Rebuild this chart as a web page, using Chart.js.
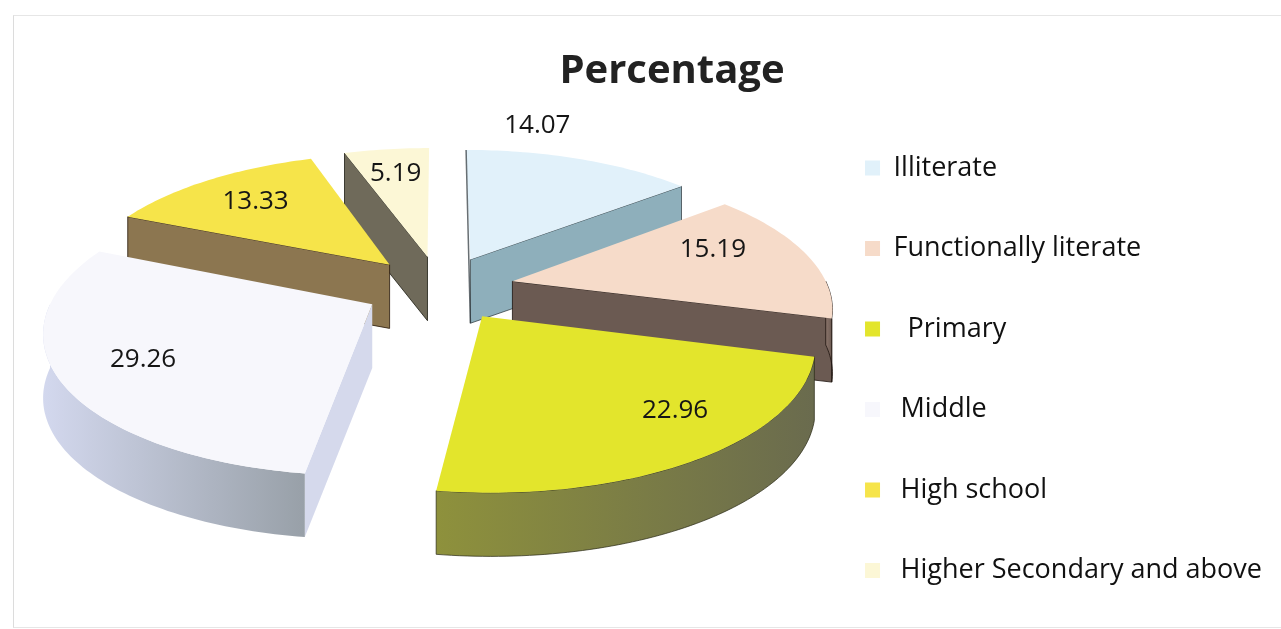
<!DOCTYPE html>
<html>
<head>
<meta charset="utf-8">
<title>Percentage</title>
<script src="https://cdn.jsdelivr.net/npm/chart.js@4.4.0/dist/chart.umd.min.js"></script>
<style>
    html, body { margin: 0; padding: 0; background: #fff; overflow: hidden; }
    #wrap { position: relative; width: 1281px; height: 629px; overflow: hidden; }
    #frame {
        position: absolute; left: 13px; top: 15px; width: 1270px; height: 611px;
        border-left: 1px solid #dcdcdc; border-top: 1px solid #e6e6e6; border-bottom: 1px solid #e6e6e6;
    }
    #chartPct { position: absolute; left: 0; top: 0; }
</style>
</head>
<body>
<div id="wrap">
    <div id="frame"></div>
    <!-- canvas um pouco mais alto que a janela para a legenda caber numa só coluna -->
    <canvas id="chartPct" width="1281" height="645"></canvas>
</div>
<script>
// Nível de escolaridade (%)
const categorias = ['Illiterate', 'Functionally literate', '  Primary', ' Middle', ' High school', ' Higher Secondary and above'];
const percentagens = [14.07, 15.19, 22.96, 29.26, 13.33, 5.19];

// cores: face de cima, parede radial, parede curva (claro -> escuro)
const corTopo = ['#e1f1fa', '#f6dbc9', '#e3e52c', '#f7f7fc', '#f6e44a', '#fcf7d6'];
const corLado = ['#8eafbb', '#6b5a52', '#7f8240', '#d5d9ec', '#8c7650', '#6f6a5a'];
const corCurva = [
    ['#a8c4cf', '#8eafbb'],
    ['#8a746a', '#6b5a52'],
    ['#8e913c', '#6a6b4e'],
    ['#d3d8ee', '#98a0a8'],
    ['#9c8558', '#8c7650'],
    ['#837e6a', '#6f6a5a']
];
const corContorno = ['rgba(40,50,55,0.7)', 'rgba(30,20,15,0.8)', 'rgba(40,40,20,0.7)', null, 'rgba(40,25,10,0.8)', 'rgba(30,30,20,0.8)'];

// pie 3D "explodido": os ângulos vêm do próprio Chart.js, aqui só se projeta
const pie3d = {
    id: 'pie3d',
    beforeDatasetsDraw(chart, args, opts) {
        const ctx = chart.ctx;
        const arcs = chart.getDatasetMeta(0).data;
        const base = arcs[0].getProps(['x', 'y', 'outerRadius'], true);
        const R = base.outerRadius;
        const cx = base.x + opts.shiftX;
        const cy = base.y + opts.shiftY;
        const A = R * opts.kx, B = R * opts.ky;
        const alt = R * opts.depth;
        const dist = opts.dist;

        // (u, v) no plano do pie -> ecrã; v cresce na direção de quem vê
        const proj = (u, v, drop) => {
            const s = dist / (dist - v);
            return [cx + A * u * s, cy + B * v * s + drop];
        };

        const fatias = arcs.map((arc, i) => {
            const p = arc.getProps(['startAngle', 'endAngle'], true);
            const mid = (p.startAngle + p.endAngle) / 2;
            const o = (arc.options.offset || 0) / R;
            return { i, a0: p.startAngle, a1: p.endAngle, mid, ox: o * Math.cos(mid), oy: o * Math.sin(mid) };
        });

        const pt = (f, ang, r, drop) => proj(f.ox + r * Math.cos(ang), f.oy + r * Math.sin(ang), drop || 0);
        const arco = (f, de, ate, drop) => {
            const n = Math.max(2, Math.ceil((ate - de) / 0.02));
            const out = [];
            for (let k = 0; k <= n; k++) out.push(pt(f, de + (ate - de) * k / n, 1, drop));
            return out;
        };
        const poly = (pts, fill, stroke) => {
            ctx.beginPath();
            pts.forEach((p, k) => k ? ctx.lineTo(p[0], p[1]) : ctx.moveTo(p[0], p[1]));
            ctx.closePath();
            ctx.fillStyle = fill;
            ctx.fill();
            if (stroke) {
                ctx.strokeStyle = stroke;
                ctx.lineWidth = 1;
                ctx.stroke();
            }
        };
        const parede = (f, a) => {
            poly([pt(f, a, 0), pt(f, a, 1), pt(f, a, 1, alt), pt(f, a, 0, alt)], corLado[f.i], corContorno[f.i]);
        };

        ctx.save();
        ctx.lineJoin = 'round';
        // de trás para a frente
        fatias.slice().sort((a, b) => Math.sin(a.mid) - Math.sin(b.mid)).forEach(f => {
            if (Math.cos(f.a0) < -1e-6) parede(f, f.a0);
            if (Math.cos(f.a1) > 1e-6) parede(f, f.a1);

            const lo = Math.max(f.a0, 0), hi = Math.min(f.a1, Math.PI);
            if (hi > lo) {
                const cima = arco(f, lo, hi, 0);
                const baixo = arco(f, lo, hi, alt).reverse();
                const xs = cima.map(p => p[0]);
                const g = ctx.createLinearGradient(Math.min(...xs), 0, Math.max(...xs), 0);
                g.addColorStop(0, corCurva[f.i][0]);
                g.addColorStop(1, corCurva[f.i][1]);
                poly(cima.concat(baixo), g, corContorno[f.i]);
            }

            poly([pt(f, 0, 0)].concat(arco(f, f.a0, f.a1, 0)), corTopo[f.i], null);

            // aresta de uma parede vista de perfil
            if (Math.abs(Math.cos(f.a0)) <= 1e-6 && corContorno[f.i]) {
                const p1 = pt(f, f.a0, 1), p2 = pt(f, f.a0, 0, alt);
                ctx.beginPath();
                ctx.moveTo(p1[0], p1[1]);
                ctx.lineTo(p2[0], p2[1]);
                ctx.strokeStyle = corContorno[f.i];
                ctx.lineWidth = 1.5;
                ctx.stroke();
            }
        });

        // valores
        ctx.font = opts.labelFont;
        ctx.fillStyle = '#151515';
        ctx.textAlign = 'center';
        ctx.textBaseline = 'middle';
        fatias.forEach(f => {
            const ang = f.a0 + (f.a1 - f.a0) * opts.labelFrac[f.i];
            const p = pt(f, ang, opts.labelR[f.i]);
            ctx.fillText(percentagens[f.i].toFixed(2), p[0], p[1]);
        });
        ctx.restore();
        return false;
    }
};

new Chart(document.getElementById('chartPct'), {
    type: 'pie',
    data: {
        labels: categorias,
        datasets: [{
            data: percentagens,
            backgroundColor: corTopo,
            borderWidth: 0,
            offset: 58
        }]
    },
    options: {
        responsive: false,
        animation: false,
        events: [],
        layout: { padding: { left: 72, right: 9, top: 0, bottom: 0 } },
        plugins: {
            title: {
                display: true,
                text: 'Percentage',
                color: '#222',
                font: { family: "'Open Sans', sans-serif", size: 40, weight: 'bold' },
                padding: { top: 48, bottom: 5 }
            },
            legend: {
                position: 'right',
                align: 'start',
                fullSize: false,
                labels: {
                    boxWidth: 15,
                    boxHeight: 15,
                    padding: 53.5,
                    color: '#111',
                    font: { family: "'Open Sans', sans-serif", size: 27 }
                }
            },
            tooltip: { enabled: false },
            pie3d: {
                shiftX: -2.5,
                shiftY: -85,
                kx: 1.30,
                ky: 0.562,
                depth: 0.262,
                dist: 6,
                labelFont: "26px 'Open Sans', sans-serif",
                labelR: [1.3, 0.72, 0.78, 0.75, 0.72, 0.75],
                labelFrac: [0.25, 0.35, 0.4, 0.5, 0.5, 0.5]
            }
        }
    },
    plugins: [pie3d]
});
</script>
</body>
</html>
